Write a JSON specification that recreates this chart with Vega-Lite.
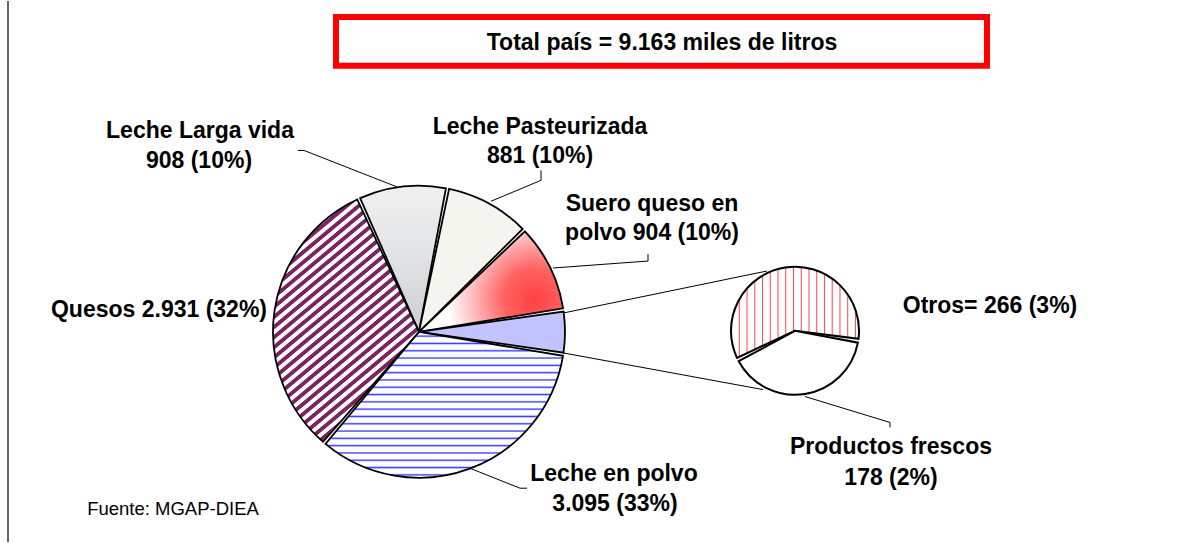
{
  "$schema": "https://vega.github.io/schema/vega-lite/v6.json",
  "width": 1204,
  "height": 543,
  "autosize": {"type": "fit", "contains": "padding"},
  "padding": 0,
  "background": "#ffffff",
  "config": {"view": {"stroke": null}},
  "datasets": {
    "leche": [
      {"producto": "Leche Larga vida", "miles_litros": 908, "grupo": "Leche Larga vida", "orden": 1},
      {"producto": "Leche Pasteurizada", "miles_litros": 881, "grupo": "Leche Pasteurizada", "orden": 2},
      {"producto": "Suero queso en polvo", "miles_litros": 904, "grupo": "Suero queso en polvo", "orden": 3},
      {"producto": "Otros", "miles_litros": 266, "grupo": "Otros", "orden": 4},
      {"producto": "Productos frescos", "miles_litros": 178, "grupo": "Otros", "orden": 5},
      {"producto": "Leche en polvo", "miles_litros": 3095, "grupo": "Leche en polvo", "orden": 6},
      {"producto": "Quesos", "miles_litros": 2931, "grupo": "Quesos", "orden": 7}
    ],
    "etiquetas": [
      {"texto": "Total país = 9.163 miles de litros", "x": 662, "y": 49},
      {"texto": "Leche Larga vida", "x": 200, "y": 138},
      {"texto": "908 (10%)", "x": 199, "y": 168},
      {"texto": "Leche Pasteurizada", "x": 540, "y": 133},
      {"texto": "881 (10%)", "x": 540, "y": 163},
      {"texto": "Suero queso en", "x": 652, "y": 211},
      {"texto": "polvo 904 (10%)", "x": 652, "y": 240},
      {"texto": "Quesos  2.931 (32%)", "x": 159, "y": 317},
      {"texto": "Otros=  266 (3%)", "x": 990, "y": 313},
      {"texto": "Leche en polvo", "x": 614, "y": 482},
      {"texto": "3.095 (33%)", "x": 615, "y": 512},
      {"texto": "Productos frescos", "x": 891, "y": 455},
      {"texto": "178 (2%)", "x": 891, "y": 486}
    ],
    "guias": [
      {"g": "llv", "o": 1, "x": 298, "y": 150},
      {"g": "llv", "o": 2, "x": 304, "y": 150},
      {"g": "llv", "o": 3, "x": 398, "y": 187},
      {"g": "past", "o": 1, "x": 541, "y": 170},
      {"g": "past", "o": 2, "x": 541, "y": 180},
      {"g": "past", "o": 3, "x": 491, "y": 201},
      {"g": "suero", "o": 1, "x": 648, "y": 254},
      {"g": "suero", "o": 2, "x": 648, "y": 261},
      {"g": "suero", "o": 3, "x": 553, "y": 268},
      {"g": "lep", "o": 1, "x": 470, "y": 469},
      {"g": "lep", "o": 2, "x": 520, "y": 489},
      {"g": "lep", "o": 3, "x": 527, "y": 489},
      {"g": "pf", "o": 1, "x": 805, "y": 397},
      {"g": "pf", "o": 2, "x": 890, "y": 423},
      {"g": "pf", "o": 3, "x": 890, "y": 428},
      {"g": "c1", "o": 1, "x": 564, "y": 313},
      {"g": "c1", "o": 2, "x": 767, "y": 271},
      {"g": "c2", "o": 1, "x": 562, "y": 353},
      {"g": "c2", "o": 2, "x": 763, "y": 390}
    ]
  },
  "layer": [
    {
      "data": {"values": [{"marco": "izquierdo"}]},
      "mark": {"type": "rule", "color": "#333333", "strokeWidth": 1.5},
      "encoding": {
        "x": {"datum": 8, "type": "quantitative", "scale": {"domain": [0, 1204], "nice": false, "zero": false}, "axis": null},
        "y": {"datum": 0, "type": "quantitative", "scale": {"domain": [0, 543], "nice": false, "zero": false, "reverse": true}, "axis": null},
        "y2": {"datum": 543}
      }
    },
    {
      "data": {"name": "leche"},
      "transform": [
        {"aggregate": [{"op": "sum", "field": "miles_litros", "as": "total"}, {"op": "min", "field": "orden", "as": "orden"}], "groupby": ["grupo"]}
      ],
      "mark": {"type": "arc", "radius": 146, "padAngle": 0.022, "stroke": "#000000", "strokeWidth": 1.8},
      "encoding": {
        "x": {"datum": 419, "type": "quantitative", "scale": {"domain": [0, 1204], "nice": false, "zero": false}, "axis": null},
        "y": {"datum": 332, "type": "quantitative", "scale": {"domain": [0, 543], "nice": false, "zero": false, "reverse": true}, "axis": null},
        "theta": {"field": "total", "type": "quantitative", "stack": true, "scale": {"type": "linear", "domain": [0, 9163], "range": [-0.4259, 5.8573]}},
        "order": {"field": "orden", "type": "quantitative"},
        "fill": {
          "condition": [
            {"test": "datum.grupo === 'Leche Larga vida'", "value": {"gradient": "linear", "x1": 0, "y1": 0, "x2": 0, "y2": 1, "stops": [{"offset": 0, "color": "#f0f0f0"}, {"offset": 0.5, "color": "#e1e2e4"}, {"offset": 1, "color": "#cdced1"}]}},
            {"test": "datum.grupo === 'Leche Pasteurizada'", "value": "#f5f5ef"},
            {"test": "datum.grupo === 'Suero queso en polvo'", "value": {"gradient": "radial", "x1": 0.8, "y1": 0.62, "r1": 0, "x2": 0.8, "y2": 0.62, "r2": 0.6, "stops": [{"offset": 0, "color": "#ff4040"}, {"offset": 0.35, "color": "#ff6262"}, {"offset": 0.7, "color": "#ffb8b8"}, {"offset": 1, "color": "#ffffff"}]}},
            {"test": "datum.grupo === 'Otros'", "value": "#c3c3ff"},
            {"test": "datum.grupo === 'Leche en polvo'", "value": {"gradient": "linear", "x1": 0, "y1": 0, "x2": 0, "y2": 1, "stops": [
              {"offset": 0.02, "color": "#fff"}, {"offset": 0.03, "color": "#3a3aff"}, {"offset": 0.04, "color": "#fff"},
              {"offset": 0.07, "color": "#fff"}, {"offset": 0.08, "color": "#3a3aff"}, {"offset": 0.09, "color": "#fff"},
              {"offset": 0.12, "color": "#fff"}, {"offset": 0.13, "color": "#3a3aff"}, {"offset": 0.14, "color": "#fff"},
              {"offset": 0.17, "color": "#fff"}, {"offset": 0.18, "color": "#3a3aff"}, {"offset": 0.19, "color": "#fff"},
              {"offset": 0.22, "color": "#fff"}, {"offset": 0.23, "color": "#3a3aff"}, {"offset": 0.24, "color": "#fff"},
              {"offset": 0.27, "color": "#fff"}, {"offset": 0.28, "color": "#3a3aff"}, {"offset": 0.29, "color": "#fff"},
              {"offset": 0.32, "color": "#fff"}, {"offset": 0.33, "color": "#3a3aff"}, {"offset": 0.34, "color": "#fff"},
              {"offset": 0.37, "color": "#fff"}, {"offset": 0.38, "color": "#3a3aff"}, {"offset": 0.39, "color": "#fff"},
              {"offset": 0.42, "color": "#fff"}, {"offset": 0.43, "color": "#3a3aff"}, {"offset": 0.44, "color": "#fff"},
              {"offset": 0.47, "color": "#fff"}, {"offset": 0.48, "color": "#3a3aff"}, {"offset": 0.49, "color": "#fff"},
              {"offset": 0.52, "color": "#fff"}, {"offset": 0.53, "color": "#3a3aff"}, {"offset": 0.54, "color": "#fff"},
              {"offset": 0.57, "color": "#fff"}, {"offset": 0.58, "color": "#3a3aff"}, {"offset": 0.59, "color": "#fff"},
              {"offset": 0.62, "color": "#fff"}, {"offset": 0.63, "color": "#3a3aff"}, {"offset": 0.64, "color": "#fff"},
              {"offset": 0.67, "color": "#fff"}, {"offset": 0.68, "color": "#3a3aff"}, {"offset": 0.69, "color": "#fff"},
              {"offset": 0.72, "color": "#fff"}, {"offset": 0.73, "color": "#3a3aff"}, {"offset": 0.74, "color": "#fff"},
              {"offset": 0.77, "color": "#fff"}, {"offset": 0.78, "color": "#3a3aff"}, {"offset": 0.79, "color": "#fff"},
              {"offset": 0.82, "color": "#fff"}, {"offset": 0.83, "color": "#3a3aff"}, {"offset": 0.84, "color": "#fff"},
              {"offset": 0.87, "color": "#fff"}, {"offset": 0.88, "color": "#3a3aff"}, {"offset": 0.89, "color": "#fff"},
              {"offset": 0.92, "color": "#fff"}, {"offset": 0.93, "color": "#3a3aff"}, {"offset": 0.94, "color": "#fff"},
              {"offset": 0.97, "color": "#fff"}, {"offset": 0.98, "color": "#3a3aff"}, {"offset": 0.99, "color": "#fff"}
            ]}},
            {"test": "datum.grupo === 'Quesos'", "value": {"gradient": "linear", "x1": 0, "y1": 0, "x2": 0.6695, "y2": 1.333, "stops": [
              {"offset": 0, "color": "#fff"}, {"offset": 0.01, "color": "#fff"}, {"offset": 0.0125, "color": "#7a2460"}, {"offset": 0.0225, "color": "#7a2460"},
              {"offset": 0.025, "color": "#fff"}, {"offset": 0.035, "color": "#fff"}, {"offset": 0.0375, "color": "#7a2460"}, {"offset": 0.0475, "color": "#7a2460"},
              {"offset": 0.05, "color": "#fff"}, {"offset": 0.06, "color": "#fff"}, {"offset": 0.0625, "color": "#7a2460"}, {"offset": 0.0725, "color": "#7a2460"},
              {"offset": 0.075, "color": "#fff"}, {"offset": 0.085, "color": "#fff"}, {"offset": 0.0875, "color": "#7a2460"}, {"offset": 0.0975, "color": "#7a2460"},
              {"offset": 0.1, "color": "#fff"}, {"offset": 0.11, "color": "#fff"}, {"offset": 0.1125, "color": "#7a2460"}, {"offset": 0.1225, "color": "#7a2460"},
              {"offset": 0.125, "color": "#fff"}, {"offset": 0.135, "color": "#fff"}, {"offset": 0.1375, "color": "#7a2460"}, {"offset": 0.1475, "color": "#7a2460"},
              {"offset": 0.15, "color": "#fff"}, {"offset": 0.16, "color": "#fff"}, {"offset": 0.1625, "color": "#7a2460"}, {"offset": 0.1725, "color": "#7a2460"},
              {"offset": 0.175, "color": "#fff"}, {"offset": 0.185, "color": "#fff"}, {"offset": 0.1875, "color": "#7a2460"}, {"offset": 0.1975, "color": "#7a2460"},
              {"offset": 0.2, "color": "#fff"}, {"offset": 0.21, "color": "#fff"}, {"offset": 0.2125, "color": "#7a2460"}, {"offset": 0.2225, "color": "#7a2460"},
              {"offset": 0.225, "color": "#fff"}, {"offset": 0.235, "color": "#fff"}, {"offset": 0.2375, "color": "#7a2460"}, {"offset": 0.2475, "color": "#7a2460"},
              {"offset": 0.25, "color": "#fff"}, {"offset": 0.26, "color": "#fff"}, {"offset": 0.2625, "color": "#7a2460"}, {"offset": 0.2725, "color": "#7a2460"},
              {"offset": 0.275, "color": "#fff"}, {"offset": 0.285, "color": "#fff"}, {"offset": 0.2875, "color": "#7a2460"}, {"offset": 0.2975, "color": "#7a2460"},
              {"offset": 0.3, "color": "#fff"}, {"offset": 0.31, "color": "#fff"}, {"offset": 0.3125, "color": "#7a2460"}, {"offset": 0.3225, "color": "#7a2460"},
              {"offset": 0.325, "color": "#fff"}, {"offset": 0.335, "color": "#fff"}, {"offset": 0.3375, "color": "#7a2460"}, {"offset": 0.3475, "color": "#7a2460"},
              {"offset": 0.35, "color": "#fff"}, {"offset": 0.36, "color": "#fff"}, {"offset": 0.3625, "color": "#7a2460"}, {"offset": 0.3725, "color": "#7a2460"},
              {"offset": 0.375, "color": "#fff"}, {"offset": 0.385, "color": "#fff"}, {"offset": 0.3875, "color": "#7a2460"}, {"offset": 0.3975, "color": "#7a2460"},
              {"offset": 0.4, "color": "#fff"}, {"offset": 0.41, "color": "#fff"}, {"offset": 0.4125, "color": "#7a2460"}, {"offset": 0.4225, "color": "#7a2460"},
              {"offset": 0.425, "color": "#fff"}, {"offset": 0.435, "color": "#fff"}, {"offset": 0.4375, "color": "#7a2460"}, {"offset": 0.4475, "color": "#7a2460"},
              {"offset": 0.45, "color": "#fff"}, {"offset": 0.46, "color": "#fff"}, {"offset": 0.4625, "color": "#7a2460"}, {"offset": 0.4725, "color": "#7a2460"},
              {"offset": 0.475, "color": "#fff"}, {"offset": 0.485, "color": "#fff"}, {"offset": 0.4875, "color": "#7a2460"}, {"offset": 0.4975, "color": "#7a2460"},
              {"offset": 0.5, "color": "#fff"}, {"offset": 0.51, "color": "#fff"}, {"offset": 0.5125, "color": "#7a2460"}, {"offset": 0.5225, "color": "#7a2460"},
              {"offset": 0.525, "color": "#fff"}, {"offset": 0.535, "color": "#fff"}, {"offset": 0.5375, "color": "#7a2460"}, {"offset": 0.5475, "color": "#7a2460"},
              {"offset": 0.55, "color": "#fff"}, {"offset": 0.56, "color": "#fff"}, {"offset": 0.5625, "color": "#7a2460"}, {"offset": 0.5725, "color": "#7a2460"},
              {"offset": 0.575, "color": "#fff"}, {"offset": 0.585, "color": "#fff"}, {"offset": 0.5875, "color": "#7a2460"}, {"offset": 0.5975, "color": "#7a2460"},
              {"offset": 0.6, "color": "#fff"}, {"offset": 0.61, "color": "#fff"}, {"offset": 0.6125, "color": "#7a2460"}, {"offset": 0.6225, "color": "#7a2460"},
              {"offset": 0.625, "color": "#fff"}, {"offset": 0.635, "color": "#fff"}, {"offset": 0.6375, "color": "#7a2460"}, {"offset": 0.6475, "color": "#7a2460"},
              {"offset": 0.65, "color": "#fff"}, {"offset": 0.66, "color": "#fff"}, {"offset": 0.6625, "color": "#7a2460"}, {"offset": 0.6725, "color": "#7a2460"},
              {"offset": 0.675, "color": "#fff"}, {"offset": 0.685, "color": "#fff"}, {"offset": 0.6875, "color": "#7a2460"}, {"offset": 0.6975, "color": "#7a2460"},
              {"offset": 0.7, "color": "#fff"}, {"offset": 0.71, "color": "#fff"}, {"offset": 0.7125, "color": "#7a2460"}, {"offset": 0.7225, "color": "#7a2460"},
              {"offset": 0.725, "color": "#fff"}, {"offset": 0.735, "color": "#fff"}, {"offset": 0.7375, "color": "#7a2460"}, {"offset": 0.7475, "color": "#7a2460"},
              {"offset": 0.75, "color": "#fff"}, {"offset": 0.76, "color": "#fff"}, {"offset": 0.7625, "color": "#7a2460"}, {"offset": 0.7725, "color": "#7a2460"},
              {"offset": 0.775, "color": "#fff"}, {"offset": 0.785, "color": "#fff"}, {"offset": 0.7875, "color": "#7a2460"}, {"offset": 0.7975, "color": "#7a2460"},
              {"offset": 0.8, "color": "#fff"}, {"offset": 0.81, "color": "#fff"}, {"offset": 0.8125, "color": "#7a2460"}, {"offset": 0.8225, "color": "#7a2460"},
              {"offset": 0.825, "color": "#fff"}, {"offset": 0.835, "color": "#fff"}, {"offset": 0.8375, "color": "#7a2460"}, {"offset": 0.8475, "color": "#7a2460"},
              {"offset": 0.85, "color": "#fff"}, {"offset": 0.86, "color": "#fff"}, {"offset": 0.8625, "color": "#7a2460"}, {"offset": 0.8725, "color": "#7a2460"},
              {"offset": 0.875, "color": "#fff"}, {"offset": 0.885, "color": "#fff"}, {"offset": 0.8875, "color": "#7a2460"}, {"offset": 0.8975, "color": "#7a2460"},
              {"offset": 0.9, "color": "#fff"}, {"offset": 0.91, "color": "#fff"}, {"offset": 0.9125, "color": "#7a2460"}, {"offset": 0.9225, "color": "#7a2460"},
              {"offset": 0.925, "color": "#fff"}
            ]}}
          ],
          "value": "#ffffff"
        }
      }
    },
    {
      "data": {"name": "leche"},
      "transform": [{"filter": "datum.grupo === 'Otros'"}],
      "mark": {"type": "arc", "radius": 64, "padAngle": 0.06, "stroke": "#000000", "strokeWidth": 2},
      "encoding": {
        "x": {"datum": 795, "type": "quantitative", "scale": {"domain": [0, 1204], "nice": false, "zero": false}, "axis": null},
        "y": {"datum": 331, "type": "quantitative", "scale": {"domain": [0, 543], "nice": false, "zero": false, "reverse": true}, "axis": null},
        "theta": {"field": "miles_litros", "type": "quantitative", "stack": true, "scale": {"type": "linear", "domain": [0, 444], "range": [-2.0368, 4.2464]}},
        "order": {"field": "orden", "type": "quantitative"},
        "fill": {
          "condition": {"test": "datum.producto === 'Otros'", "value": {"gradient": "linear", "x1": 0, "y1": 0, "x2": 1, "y2": 0, "stops": [
            {"offset": 0.0568, "color": "#fff"}, {"offset": 0.0648, "color": "#ff4a4a"}, {"offset": 0.0728, "color": "#fff"},
            {"offset": 0.1173, "color": "#fff"}, {"offset": 0.1253, "color": "#ff4a4a"}, {"offset": 0.1333, "color": "#fff"},
            {"offset": 0.1778, "color": "#fff"}, {"offset": 0.1858, "color": "#ff4a4a"}, {"offset": 0.1938, "color": "#fff"},
            {"offset": 0.2383, "color": "#fff"}, {"offset": 0.2463, "color": "#ff4a4a"}, {"offset": 0.2543, "color": "#fff"},
            {"offset": 0.2988, "color": "#fff"}, {"offset": 0.3068, "color": "#ff4a4a"}, {"offset": 0.3148, "color": "#fff"},
            {"offset": 0.3593, "color": "#fff"}, {"offset": 0.3673, "color": "#ff4a4a"}, {"offset": 0.3753, "color": "#fff"},
            {"offset": 0.4198, "color": "#fff"}, {"offset": 0.4278, "color": "#ff4a4a"}, {"offset": 0.4358, "color": "#fff"},
            {"offset": 0.4803, "color": "#fff"}, {"offset": 0.4883, "color": "#ff4a4a"}, {"offset": 0.4963, "color": "#fff"},
            {"offset": 0.5408, "color": "#fff"}, {"offset": 0.5488, "color": "#ff4a4a"}, {"offset": 0.5568, "color": "#fff"},
            {"offset": 0.6013, "color": "#fff"}, {"offset": 0.6093, "color": "#ff4a4a"}, {"offset": 0.6173, "color": "#fff"},
            {"offset": 0.6618, "color": "#fff"}, {"offset": 0.6698, "color": "#ff4a4a"}, {"offset": 0.6778, "color": "#fff"},
            {"offset": 0.7223, "color": "#fff"}, {"offset": 0.7303, "color": "#ff4a4a"}, {"offset": 0.7383, "color": "#fff"},
            {"offset": 0.7828, "color": "#fff"}, {"offset": 0.7908, "color": "#ff4a4a"}, {"offset": 0.7988, "color": "#fff"},
            {"offset": 0.8433, "color": "#fff"}, {"offset": 0.8513, "color": "#ff4a4a"}, {"offset": 0.8593, "color": "#fff"},
            {"offset": 0.9038, "color": "#fff"}, {"offset": 0.9118, "color": "#ff4a4a"}, {"offset": 0.9198, "color": "#fff"},
            {"offset": 0.9643, "color": "#fff"}, {"offset": 0.9723, "color": "#ff4a4a"}, {"offset": 0.9803, "color": "#fff"}
          ]}},
          "value": "#ffffff"
        }
      }
    },
    {
      "data": {"name": "guias"},
      "mark": {"type": "line", "color": "#000000", "strokeWidth": 1},
      "encoding": {
        "x": {"field": "x", "type": "quantitative", "scale": {"domain": [0, 1204], "nice": false, "zero": false}, "axis": null},
        "y": {"field": "y", "type": "quantitative", "scale": {"domain": [0, 543], "nice": false, "zero": false, "reverse": true}, "axis": null},
        "detail": {"field": "g", "type": "nominal"},
        "order": {"field": "o", "type": "quantitative"}
      }
    },
    {
      "data": {"values": [{"marco": "titulo"}]},
      "mark": {"type": "rect", "fill": null, "stroke": "#ff0000", "strokeWidth": 6},
      "encoding": {
        "x": {"datum": 336, "type": "quantitative", "scale": {"domain": [0, 1204], "nice": false, "zero": false}, "axis": null},
        "x2": {"datum": 987},
        "y": {"datum": 16, "type": "quantitative", "scale": {"domain": [0, 543], "nice": false, "zero": false, "reverse": true}, "axis": null},
        "y2": {"datum": 65}
      }
    },
    {
      "data": {"name": "etiquetas"},
      "mark": {"type": "text", "font": "Liberation Sans", "fontSize": 23, "fontWeight": "bold", "align": "center", "baseline": "alphabetic", "color": "#000000"},
      "encoding": {
        "x": {"field": "x", "type": "quantitative", "scale": {"domain": [0, 1204], "nice": false, "zero": false}, "axis": null},
        "y": {"field": "y", "type": "quantitative", "scale": {"domain": [0, 543], "nice": false, "zero": false, "reverse": true}, "axis": null},
        "text": {"field": "texto", "type": "nominal"}
      }
    },
    {
      "data": {"values": [{"fuente": "Fuente: MGAP-DIEA"}]},
      "mark": {"type": "text", "font": "Liberation Sans", "fontSize": 18.5, "align": "center", "baseline": "alphabetic", "color": "#000000"},
      "encoding": {
        "x": {"datum": 173, "type": "quantitative", "scale": {"domain": [0, 1204], "nice": false, "zero": false}, "axis": null},
        "y": {"datum": 516, "type": "quantitative", "scale": {"domain": [0, 543], "nice": false, "zero": false, "reverse": true}, "axis": null},
        "text": {"field": "fuente", "type": "nominal"}
      }
    }
  ],
  "resolve": {"scale": {"theta": "independent"}}
}
